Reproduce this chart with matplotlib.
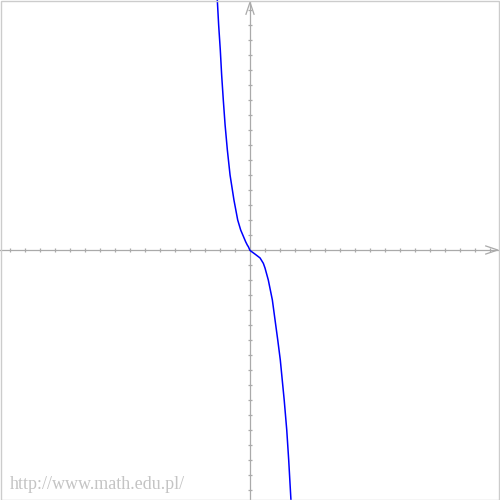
import matplotlib.pyplot as plt
from matplotlib.patches import Rectangle

# curve points (1 unit = one tick)
curve_x = [-2.18, -2.09, -1.98, -1.89, -1.78, -1.66, -1.51, -1.33, -1.07, -0.82,
           -0.62, -0.45, -0.29, -0.18, -0.11, 0.0, 0.33, 0.67, 0.89, 1.0,
           1.22, 1.49, 1.67, 1.85, 2.02, 2.15, 2.28, 2.45, 2.58, 2.73]
curve_y = [16.67, 15.0, 13.33, 11.67, 10.0, 8.33, 6.67, 5.0, 3.33, 2.0,
           1.33, 0.93, 0.55, 0.33, 0.22, -0.03, -0.27, -0.53, -0.89, -1.2,
           -2.0, -3.33, -4.67, -6.0, -7.33, -8.67, -10.0, -12.0, -14.0, -16.67]
ticks = [k for k in range(-16, 17) if k != 0]

lim = 250 / 15
axis_col = '#aaaaaa'

fig = plt.figure(figsize=(5, 5), dpi=100)
ax = fig.add_axes([0, 0, 1, 1])
ax.set_xlim(-lim, lim)
ax.set_ylim(-lim, lim)
ax.axis('off')

# axes through the origin
ax.plot([-lim, lim - 0.1], [0, 0], color=axis_col, lw=0.9)
ax.plot([0, 0], [-lim, lim - 0.1], color=axis_col, lw=0.9)
ax.vlines(ticks, -0.14, 0.14, color=axis_col, lw=0.9)
ax.hlines(ticks, -0.14, 0.14, color=axis_col, lw=0.9)

# arrow heads
tip = lim - 0.15
ax.plot([tip - 0.8, tip, tip - 0.8], [0.27, 0, -0.27], color=axis_col, lw=0.9)
ax.plot([0.27, 0, -0.27], [tip - 0.8, tip, tip - 0.8], color=axis_col, lw=0.9)

ax.plot(curve_x, curve_y, color='#0000ff', lw=1.1)

fig.patches.append(Rectangle((0.001, 0.001), 0.997, 0.997, transform=fig.transFigure,
                             fill=False, edgecolor='#cccccc', lw=1))
fig.text(10 / 500, 1 - 489 / 500, 'http://www.math.edu.pl/', color='#c4c4c4',
         fontsize=13, family='Liberation Serif', va='baseline', ha='left')

fig.savefig('out.png', dpi=100, facecolor='white')
